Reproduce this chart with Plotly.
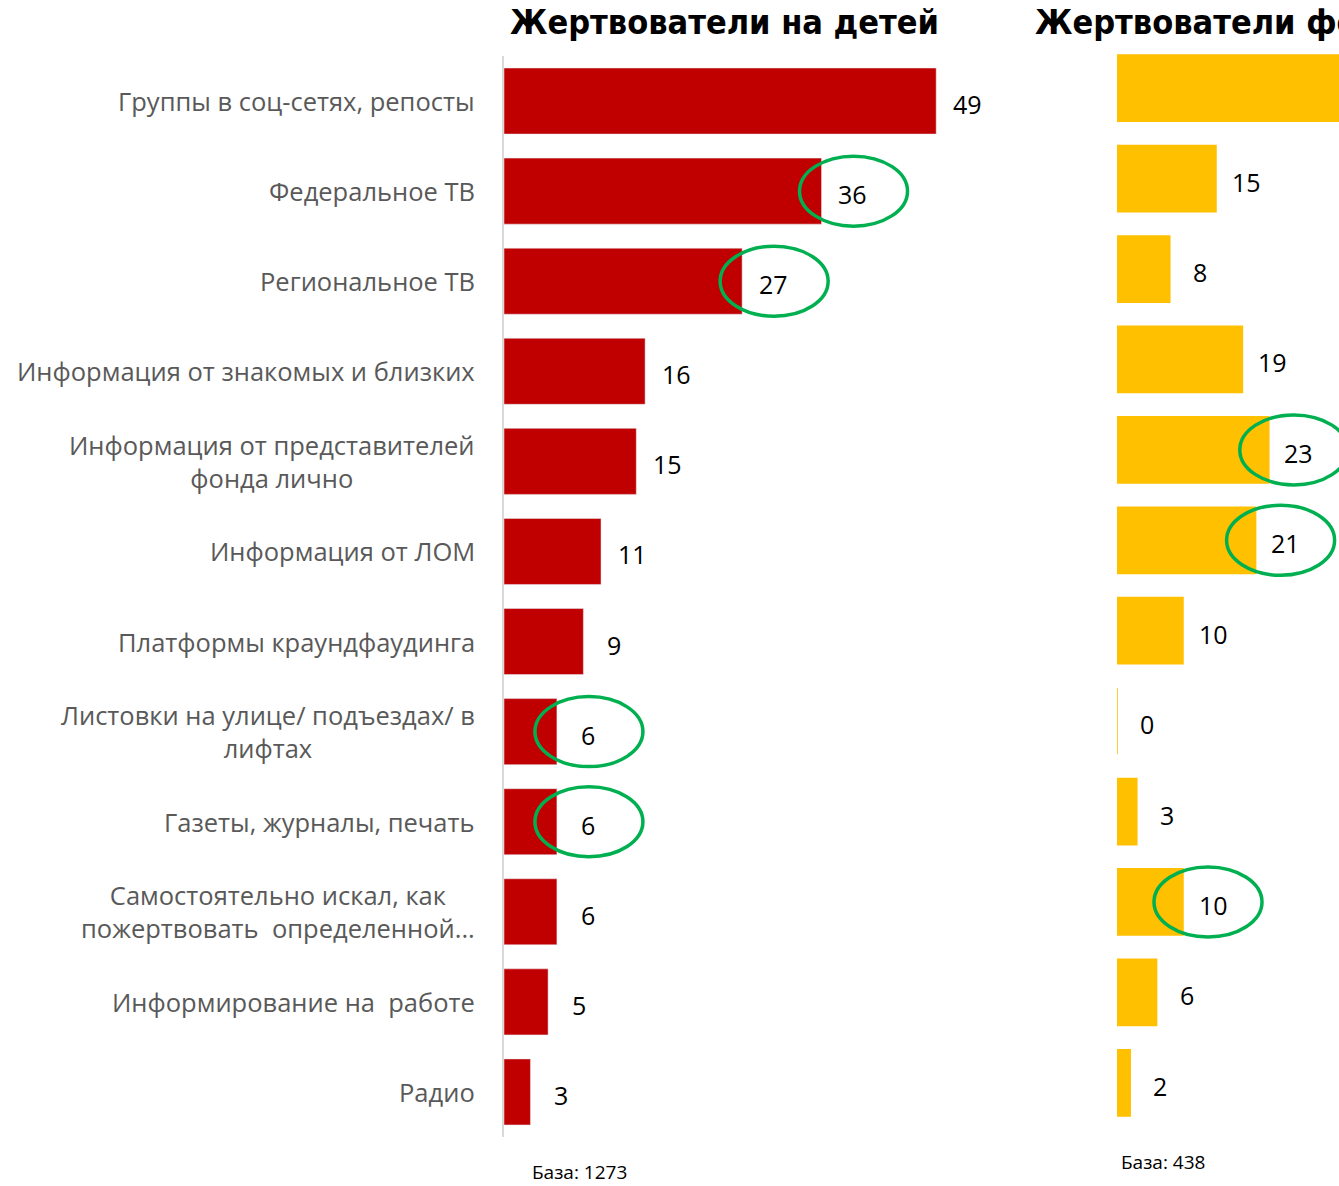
import plotly.graph_objects as go

categories = [
    "Группы в соц-сетях, репосты",
    "Федеральное ТВ",
    "Региональное ТВ",
    "Информация от знакомых и близких",
    "Информация от представителей<br>фонда лично",
    "Информация от ЛОМ",
    "Платформы краундфаудинга",
    "Листовки на улице/ подъездах/ в<br>лифтах",
    "Газеты, журналы, печать",
    "Самостоятельно искал, как<br>пожертвовать  определенной...",
    "Информирование на  работе",
    "Радио",
]
children_values = [49, 36, 27, 16, 15, 11, 9, 6, 6, 6, 5, 3]
fund_values = [42, 15, 8, 19, 23, 21, 10, 0, 3, 10, 6, 2]
children_highlight = [1, 2, 7, 8]
fund_highlight = [4, 5, 9]
title_children = "Жертвователи на детей"
title_fund = "Жертвователи фондов"
base_children = "База: 1273"
base_fund = "База: 438"

W, H = 1339, 1186
RED = "#C00000"
YEL = "#FFC000"
GREEN = "#00B050"
GRAY = "#595959"

fig = go.Figure()
fig.add_trace(go.Bar(y=categories, x=children_values, orientation="h",
                     marker=dict(color=RED), xaxis="x", yaxis="y",
                     hoverinfo="skip"))
fig.add_trace(go.Bar(y=categories, x=fund_values, orientation="h",
                     marker=dict(color=YEL, line=dict(color=YEL, width=1.5)),
                     xaxis="x2", yaxis="y2", hoverinfo="skip"))

ann = []
# category labels
for c in categories:
    ann.append(dict(text=c, xref="paper", yref="y", x=477 / W, y=c,
                    xanchor="right", yanchor="middle", align="center",
                    showarrow=False,
                    font=dict(family="Open Sans", size=25.5, color=GRAY)))
# value labels
for c, v in zip(categories, children_values):
    ann.append(dict(text=str(v), xref="x", yref="y", x=v, y=c, xshift=31, yshift=-3,
                    xanchor="center", yanchor="middle", showarrow=False,
                    font=dict(family="Open Sans", size=25, color="black")))
for c, v in zip(categories, fund_values):
    ann.append(dict(text=str(v), xref="x2", yref="y2", x=v, y=c, xshift=30, yshift=-3,
                    xanchor="center", yanchor="middle", showarrow=False,
                    font=dict(family="Open Sans", size=25, color="black")))
# titles
ann.append(dict(text="<b>" + title_children + "</b>", xref="paper", yref="paper",
                x=724 / W, y=1 - 22 / H, xanchor="center", yanchor="middle",
                showarrow=False,
                font=dict(family="DejaVu Sans Condensed, DejaVu Sans", size=34, color="black")))
ann.append(dict(text="<b>" + title_fund + "</b>", xref="paper", yref="paper",
                x=1033 / W, y=1 - 22 / H, xanchor="left", yanchor="middle",
                showarrow=False,
                font=dict(family="DejaVu Sans Condensed, DejaVu Sans", size=34, color="black")))
ann.append(dict(text=base_children, xref="paper", yref="paper",
                x=530 / W, y=1 - 1172 / H, xanchor="left", yanchor="middle",
                showarrow=False, font=dict(family="Open Sans", size=19, color="black")))
ann.append(dict(text=base_fund, xref="paper", yref="paper",
                x=1119 / W, y=1 - 1162 / H, xanchor="left", yanchor="middle",
                showarrow=False, font=dict(family="Open Sans", size=19, color="black")))

shapes = []
for i in children_highlight:
    shapes.append(dict(type="circle", xref="x", yref="y", xsizemode="pixel",
                       ysizemode="pixel", xanchor=children_values[i], yanchor=i,
                       x0=32 - 54, x1=32 + 54, y0=-35, y1=35,
                       line=dict(color=GREEN, width=3.5)))
for i in fund_highlight:
    shapes.append(dict(type="circle", xref="x2", yref="y2", xsizemode="pixel",
                       ysizemode="pixel", xanchor=fund_values[i], yanchor=i,
                       x0=25 - 54, x1=25 + 54, y0=-35, y1=35,
                       line=dict(color=GREEN, width=3.5)))

fig.update_layout(
    width=W, height=H, margin=dict(l=0, r=0, t=0, b=0),
    paper_bgcolor="white", plot_bgcolor="white", showlegend=False,
    bargap=0.267,
    xaxis=dict(domain=[504 / W, 1010 / W], range=[0, 506 / 8.82], visible=False,
               anchor="y"),
    yaxis=dict(domain=[1 - 1137 / H, 1 - 56 / H], type="category",
               categoryorder="array", categoryarray=categories, autorange="reversed",
               showticklabels=False, showgrid=False, zeroline=False, showline=True,
               linecolor="#D9D9D9", linewidth=1.5, anchor="x", ticks=""),
    xaxis2=dict(domain=[1117 / W, 1], range=[0, 222 / 6.6], visible=False, anchor="y2"),
    yaxis2=dict(domain=[1 - 1128 / H, 1 - 43 / H], type="category",
                categoryorder="array", categoryarray=categories, autorange="reversed",
                visible=False, anchor="x2"),
    annotations=ann, shapes=shapes,
)
fig.write_html("out.html", config={"displayModeBar": False},
               post_script="document.body.style.margin='0px';document.body.style.overflow='hidden';")
